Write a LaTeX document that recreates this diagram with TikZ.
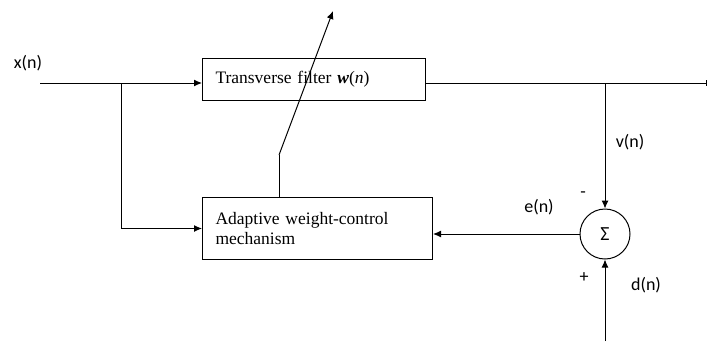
\documentclass[tikz,border=0pt]{standalone}
\usepackage{fontspec}
\setmainfont{Liberation Serif}
\newfontfamily\lab{Carlito}
\usetikzlibrary{arrows.meta}
\begin{document}
\begin{tikzpicture}[x=1pt,y=-1pt, line width=1pt, >={Latex[length=8pt,width=7pt]},
 blk/.style={draw, rectangle, anchor=north west, align=left, font=\fontsize{17.5}{20}\selectfont},
 lbl/.style={font=\lab\fontsize{18}{20}\selectfont, inner sep=0pt}]
\useasboundingbox (0,0) rectangle (708,341);
\node[blk, minimum width=223pt, minimum height=42pt, text width=197pt, inner xsep=13pt] (tf) at (202,58) {\raisebox{3pt}{Transverse filter \textbf{\textit{w}}(\textit{n})}};
\node[blk, minimum width=230pt, minimum height=62pt, text width=204pt, inner xsep=13pt] (aw) at (202,197) {Adaptive weight-control\\mechanism\\[-3pt]};
\node[draw, circle, minimum size=50pt, inner sep=0pt, font=\lab\fontsize{20}{22}\selectfont] (s) at (605,234) {Σ};
\coordinate (in) at (40,83);
\coordinate (br) at (121,83);
\coordinate (tap) at (605,83);
\coordinate (out) at (707,83);
\coordinate (dn) at (605,341);
\coordinate (k) at (279,155);
\coordinate (tip) at (333,11);
\draw (in) -- (br);
\draw[->] (br) -- (br -| tf.west);
\draw[->] (br) |- (aw.west);
\draw[-{Bar[width=6pt]}] (tf.east |- out) -- (out);
\draw[->] (tap) -- (s.north);
\draw[->] (s.west) -- (s.west -| aw.east);
\draw[->] (dn) -- (s.south);
\draw (aw.north -| k) -- (k);
\draw[->] (k) -- (tip);
\node[lbl] (xl) at (28,63) {x(n)};
\node[lbl] (vl) at (630,142) {v(n)};
\node[lbl] (el) at (539,207) {e(n)};
\node[lbl] (ml) at (583,195) {-};
\node[lbl] (pl) at (584,278) {+};
\node[lbl] (dl) at (646,285) {d(n)};
\end{tikzpicture}
\end{document}
